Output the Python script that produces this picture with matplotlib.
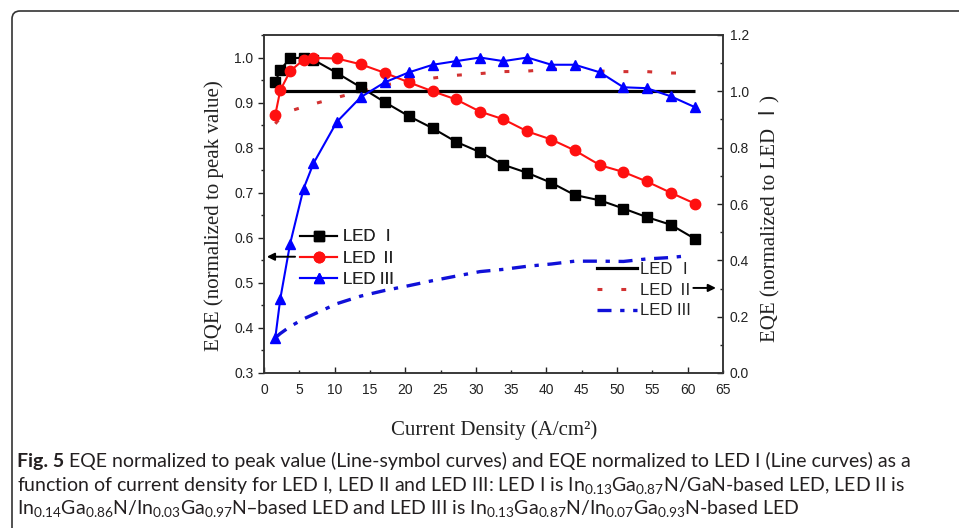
import matplotlib
matplotlib.use('Agg')
import matplotlib.pyplot as plt
from matplotlib.patches import FancyBboxPatch
from matplotlib.lines import Line2D
from matplotlib.ticker import MultipleLocator, FormatStrFormatter

# current density (A/cm^2) of the measured points
cd = [1.6, 2.3, 3.7, 5.6, 7.0, 10.3, 13.7, 17.1, 20.5, 23.9, 27.2,
      30.6, 33.9, 37.3, 40.7, 44.0, 47.6, 50.9, 54.2, 57.6, 61.0]

# EQE normalized to its own peak (left axis, line-symbol curves)
peak_led1 = [0.945, 0.973, 0.998, 1.0, 0.995, 0.966, 0.934, 0.901, 0.870, 0.843, 0.813,
             0.790, 0.762, 0.744, 0.722, 0.695, 0.683, 0.665, 0.646, 0.629, 0.598]
peak_led2 = [0.873, 0.927, 0.970, 0.995, 0.999, 0.998, 0.985, 0.966, 0.945, 0.925, 0.907,
             0.880, 0.863, 0.836, 0.818, 0.794, 0.761, 0.746, 0.725, 0.700, 0.676]
peak_led3 = [0.378, 0.464, 0.587, 0.709, 0.765, 0.857, 0.912, 0.945, 0.967, 0.984, 0.992,
             1.0, 0.992, 1.0, 0.984, 0.984, 0.967, 0.934, 0.932, 0.914, 0.890]

# EQE normalized to LED I (right axis, line curves)
cd_rel1 = [1.6, 61.0]
rel_led1 = [1.0, 1.0]
cd_rel = [1.6, 2.3, 3.7, 5.6, 7.0, 10.3, 13.7, 17.1, 20.5, 23.9, 27.2,
          30.6, 33.9, 37.3, 40.7, 44.0, 47.6, 50.9, 54.2, 57.6, 59.5]
rel_led2 = [0.885, 0.905, 0.93, 0.945, 0.955, 0.978, 1.0, 1.022, 1.037, 1.047, 1.057,
            1.063, 1.07, 1.072, 1.078, 1.08, 1.072, 1.07, 1.07, 1.065, 1.065]
rel_led3 = [0.125, 0.14, 0.165, 0.192, 0.208, 0.246, 0.273, 0.293, 0.31, 0.328, 0.344,
            0.36, 0.368, 0.379, 0.387, 0.397, 0.397, 0.396, 0.405, 0.41, 0.415]

labels_sym = ['LED Ⅰ', 'LED Ⅱ', 'LED III']
labels_line = ['LED Ⅰ', 'LED Ⅱ', 'LED III']

W, H = 959, 528
fig = plt.figure(figsize=(W / 100, H / 100), dpi=100)
fig.patch.set_facecolor('white')

SANS = ['Liberation Sans', 'Noto Sans CJK SC']
SERIF = ['Liberation Serif', 'Noto Sans CJK SC']
INK = '#222222'

ax = fig.add_axes([264 / W, 1 - 373 / H, (723 - 264) / W, (373 - 35) / H])
ax2 = ax.twinx()
ax.set_zorder(ax2.get_zorder() + 1)
ax.patch.set_visible(False)

# line curves (right axis)
ax2.plot(cd_rel1, rel_led1, color='black', lw=2.3, solid_capstyle='butt')
ax2.plot(cd_rel, rel_led2, color='#d23232', lw=2.2, linestyle=(0, (1.6, 6.2)))
ax2.plot(cd_rel, rel_led3, color='#1010d8', lw=2.4, linestyle=(0, (4.2, 2.6, 1.3, 2.6)))

# line-symbol curves (left axis)
ax.plot(cd, peak_led1, color='black', lw=1.5, marker='s', ms=6.5)
ax.plot(cd, peak_led2, color='#ff1010', lw=1.5, marker='o', ms=7.5)
ax.plot(cd, peak_led3, color='#0000ff', lw=1.5, marker='^', ms=7.5)

ax.set_xlim(0, 65)
ax.set_ylim(0.3, 1.05)
ax2.set_ylim(0, 1.2)

ax.xaxis.set_major_locator(MultipleLocator(10))
ax.xaxis.set_minor_locator(MultipleLocator(5))
ax.xaxis.set_major_formatter(FormatStrFormatter('%d'))
ax.xaxis.set_minor_formatter(FormatStrFormatter('%d'))
ax.yaxis.set_major_locator(MultipleLocator(0.1))
ax.yaxis.set_minor_locator(MultipleLocator(0.05))
ax.yaxis.set_major_formatter(FormatStrFormatter('%.1f'))
ax2.yaxis.set_major_locator(MultipleLocator(0.2))
ax2.yaxis.set_minor_locator(MultipleLocator(0.1))
ax2.yaxis.set_major_formatter(FormatStrFormatter('%.1f'))

ax.tick_params(axis='x', which='both', direction='in', top=False, pad=7,
               labelsize=10, colors=INK, width=1)
ax.tick_params(axis='x', which='major', length=4.5)
ax.tick_params(axis='x', which='minor', length=2.5)
ax.tick_params(axis='y', which='both', direction='out', right=False, pad=3,
               labelsize=10, colors=INK, width=1)
ax.tick_params(axis='y', which='major', length=4.5)
ax.tick_params(axis='y', which='minor', length=2.5)
ax2.tick_params(axis='y', which='both', direction='in', left=False, pad=5,
                labelsize=10, colors=INK, width=1)
ax2.tick_params(axis='y', which='major', length=4.5)
ax2.tick_params(axis='y', which='minor', length=2.5)
for a in (ax, ax2):
    for lbl in a.get_xticklabels(minor=True) + a.get_xticklabels() + a.get_yticklabels():
        lbl.set_family(SANS)
    for sp in a.spines.values():
        sp.set_linewidth(1.1)
        sp.set_color('#333333')

# legends
h_sym = [Line2D([], [], color='black', lw=1.5, marker='s', ms=6.5),
         Line2D([], [], color='#ff1010', lw=1.5, marker='o', ms=7.5),
         Line2D([], [], color='#0000ff', lw=1.5, marker='^', ms=7.5)]
leg1 = ax.legend(h_sym, labels_sym, loc='upper left', bbox_to_anchor=(0.078, 0.425),
                 frameon=False, borderpad=0, borderaxespad=0, handlelength=2.25,
                 handletextpad=0.35, labelspacing=0.38, prop={'family': SANS, 'size': 12})
ax.add_artist(leg1)
h_line = [Line2D([], [], color='black', lw=2.3),
          Line2D([], [], color='#d23232', lw=2.2, linestyle=(0, (1.6, 6.2))),
          Line2D([], [], color='#1010d8', lw=2.4, linestyle=(0, (4.2, 2.6, 1.3, 2.6)))]
leg2 = ax2.legend(h_line, labels_line, loc='upper left', bbox_to_anchor=(0.725, 0.328),
                  frameon=False, borderpad=0, borderaxespad=0, handlelength=2.4,
                  handletextpad=0.2, labelspacing=0.34, prop={'family': SANS, 'size': 12})
for t in leg1.get_texts() + leg2.get_texts():
    t.set_color(INK)

# arrows pointing to the axis each group belongs to
ax.annotate('', xy=(0.4, 0.558), xytext=(4.4, 0.558),
            arrowprops=dict(arrowstyle='-|>', color='black', lw=1.4,
                            mutation_scale=11, shrinkA=0, shrinkB=0))
ax2.annotate('', xy=(64.0, 0.302), xytext=(60.8, 0.302),
             arrowprops=dict(arrowstyle='-|>', color='black', lw=1.4,
                             mutation_scale=11, shrinkA=0, shrinkB=0))

# axis titles
fig.text(214 / W, 1 - 216 / H, 'EQE (normalized to peak value)', rotation=90,
         ha='center', va='center', family=SERIF, fontsize=15, color=INK)
fig.text(769 / W, 1 - 218 / H, 'EQE (normalized to LED Ⅰ)', rotation=90,
         ha='center', va='center', family=SERIF, fontsize=15, color=INK)
fig.text(494 / W, 1 - 430 / H, 'Current Density (A/cm²)',
         ha='center', va='center', family=SERIF, fontsize=15, color=INK)

# figure frame (only top-left corner visible)
frame = FancyBboxPatch((0.12, -1.0), 12.0, 5.17 + 1.0,
                       boxstyle='round,pad=0,rounding_size=0.08',
                       transform=fig.dpi_scale_trans, fill=False, lw=1.2, ec='#333333')
fig.add_artist(frame)

# caption
CAP = ['Lato', 'DejaVu Sans']
cap_fs = 14.0
cap_col = '#231f20'
sub = lambda s: r'$\mathregular{_{' + s + '}}$'
cap_rest = 'EQE normalized to peak value (Line-symbol curves) and EQE normalized to LED I (Line curves) as a'
cap_l2 = ('function of current density for LED I, LED II and LED III: LED I is In' + sub('0.13') +
          'Ga' + sub('0.87') + 'N/GaN-based LED, LED II is')
cap_l3 = ('In' + sub('0.14') + 'Ga' + sub('0.86') + 'N/In' + sub('0.03') + 'Ga' + sub('0.97') +
          'N–based LED and LED III is In' + sub('0.13') + 'Ga' + sub('0.87') + 'N/In' +
          sub('0.07') + 'Ga' + sub('0.93') + 'N-based LED')

x0 = 17 / W
fig_lbl = fig.text(x0, 1 - 467 / H, 'Fig. 5', family=CAP, fontsize=cap_fs,
                   fontweight='bold', color=cap_col, va='baseline')
fig.canvas.draw()
bb = fig_lbl.get_window_extent(fig.canvas.get_renderer())
fig.text((bb.x1 + 5) / W, 1 - 467 / H, cap_rest, family=CAP, fontsize=cap_fs,
         color=cap_col, va='baseline')
fig.text(x0, 1 - 491 / H, cap_l2, family=CAP, fontsize=cap_fs, color=cap_col, va='baseline')
fig.text(x0, 1 - 514 / H, cap_l3, family=CAP, fontsize=cap_fs, color=cap_col, va='baseline')

fig.savefig('out.png', dpi=100)
